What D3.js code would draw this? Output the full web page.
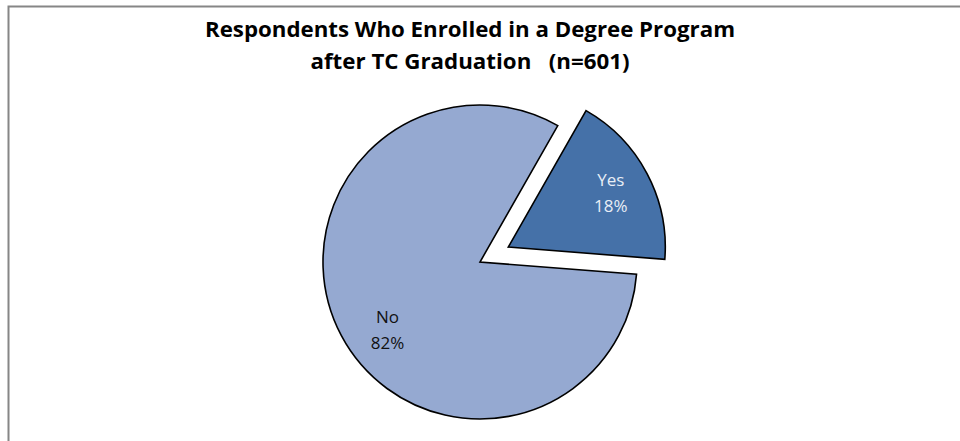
<!DOCTYPE html>
<html><head><meta charset="utf-8">
<script src="https://cdn.jsdelivr.net/npm/d3@7"></script>
<style>body{margin:0;background:#fff}svg{display:block}</style>
</head><body>
<script>
const categories = ["Yes", "No"];
const values = [18, 82];
const titleLines = ["Respondents Who Enrolled in a Degree Program", "after TC Graduation   (n=601)"];
const colors = ["#4571A8", "#95A9D1"];
const labelColors = ["#E8EEF6", "#111111"];
const explode = [32, 0];

const W = 960, H = 441;
const svg = d3.select("body").append("svg").attr("width", W).attr("height", H);
svg.append("rect").attr("x", 8.5).attr("y", 6.5).attr("width", 1000).attr("height", 500)
  .attr("fill", "#fff").attr("stroke", "#868686").attr("stroke-width", 2);

const titleWidths = [530, 319];
svg.selectAll("text.title").data(titleLines).join("text")
  .attr("class", "title")
  .attr("x", 470).attr("y", (d, i) => 37 + i * 32)
  .attr("text-anchor", "middle")
  .attr("textLength", (d, i) => titleWidths[i])
  .attr("lengthAdjust", "spacingAndGlyphs")
  .style("font-family", "'Open Sans', sans-serif")
  .style("font-weight", "bold").style("font-size", "21.5px")
  .style("white-space", "pre")
  .attr("fill", "#000").text(d => d);

const cx = 480, cy = 262, r = 157;
const start = 29.7 * Math.PI / 180;
const pie = d3.pie().sort(null).startAngle(start).endAngle(start + 2 * Math.PI);
const arcs = pie(values);
const arc = d3.arc().innerRadius(0).outerRadius(r);
const labelArc = d3.arc().innerRadius(116).outerRadius(116);
const labelNudge = [[0, 0], [10, 14]];

const g = svg.append("g").attr("transform", `translate(${cx},${cy})`);
const slices = g.selectAll("g.slice").data(arcs).join("g").attr("class", "slice")
  .attr("transform", (d, i) => {
    const m = (d.startAngle + d.endAngle) / 2;
    return `translate(${Math.sin(m) * explode[i]},${-Math.cos(m) * explode[i]})`;
  });
slices.append("path").attr("d", arc)
  .attr("fill", (d, i) => colors[i]).attr("stroke", "#000").attr("stroke-width", 1.6)
  .attr("stroke-linejoin", "miter");

slices.each(function(d, i) {
  const [cxl, cyl] = labelArc.centroid(d);
  const lx = cxl + labelNudge[i][0], ly = cyl + labelNudge[i][1];
  const t = d3.select(this).append("text")
    .attr("text-anchor", "middle")
    .style("font-family", "'Open Sans', sans-serif").style("font-size", "17px")
    .attr("fill", labelColors[i]);
  t.append("tspan").attr("x", lx).attr("y", ly - 7).text(categories[i]);
  t.append("tspan").attr("x", lx).attr("y", ly + 19).text(Math.round(values[i]) + "%");
});
</script>
</body></html>
